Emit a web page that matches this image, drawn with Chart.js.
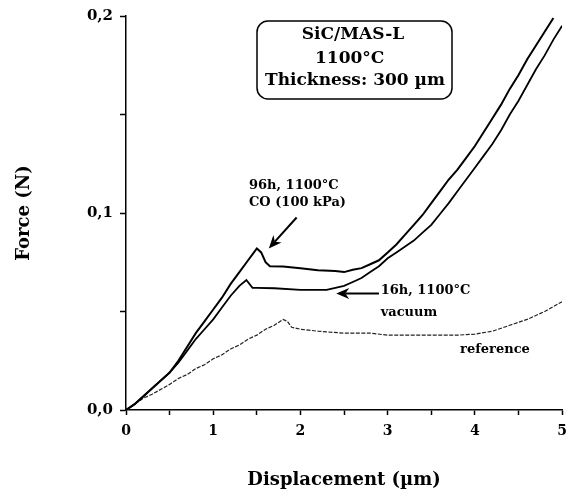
<!DOCTYPE html>
<html>
<head>
<meta charset="utf-8">
<script src="https://cdn.jsdelivr.net/npm/chart.js@4/dist/chart.umd.min.js"></script>
<style>
  html, body { margin: 0; padding: 0; background: #fff; }
  #c { display: block; }
</style>
</head>
<body>
<canvas id="c" width="575" height="491"></canvas>
<script>
// ---- Data (displacement in µm, force in N) ----
const dispCO  = [0, 0.1, 0.2, 0.3, 0.4, 0.5, 0.6, 0.7, 0.8, 0.9, 1.0, 1.1, 1.2, 1.3, 1.4, 1.45, 1.5, 1.55, 1.6, 1.65, 1.8, 2.0, 2.2, 2.4, 2.5, 2.6, 2.7, 2.8, 2.9, 3.0, 3.1, 3.2, 3.3, 3.4, 3.5, 3.6, 3.7, 3.8, 3.9, 4.0, 4.1, 4.2, 4.3, 4.4, 4.5, 4.6, 4.7, 4.8, 4.9];
const forceCO = [0, 0.003, 0.007, 0.011, 0.015, 0.019, 0.025, 0.032, 0.039, 0.045, 0.051, 0.057, 0.064, 0.070, 0.076, 0.079, 0.082, 0.080, 0.075, 0.073, 0.0728, 0.072, 0.071, 0.0705, 0.070, 0.0712, 0.072, 0.074, 0.076, 0.080, 0.084, 0.089, 0.094, 0.099, 0.105, 0.111, 0.117, 0.122, 0.128, 0.134, 0.141, 0.148, 0.155, 0.163, 0.170, 0.178, 0.185, 0.192, 0.199];

const dispVac  = [0, 0.1, 0.2, 0.3, 0.4, 0.5, 0.6, 0.7, 0.8, 0.9, 1.0, 1.1, 1.2, 1.3, 1.38, 1.45, 1.5, 1.7, 2.0, 2.3, 2.4, 2.5, 2.6, 2.7, 2.8, 2.9, 3.0, 3.1, 3.2, 3.3, 3.4, 3.5, 3.6, 3.7, 3.8, 3.9, 4.0, 4.1, 4.2, 4.3, 4.4, 4.5, 4.6, 4.7, 4.8, 4.9, 5.0];
const forceVac = [0, 0.003, 0.007, 0.011, 0.015, 0.019, 0.024, 0.030, 0.036, 0.041, 0.046, 0.052, 0.058, 0.063, 0.066, 0.062, 0.062, 0.0618, 0.061, 0.061, 0.062, 0.063, 0.065, 0.067, 0.070, 0.073, 0.077, 0.080, 0.083, 0.086, 0.090, 0.094, 0.0995, 0.105, 0.111, 0.117, 0.123, 0.129, 0.135, 0.142, 0.150, 0.157, 0.165, 0.173, 0.180, 0.188, 0.195];

const dispRef  = [0, 0.1, 0.2, 0.3, 0.4, 0.5, 0.6, 0.7, 0.8, 0.9, 1.0, 1.1, 1.2, 1.3, 1.4, 1.5, 1.6, 1.7, 1.8, 1.85, 1.9, 2.0, 2.2, 2.5, 2.8, 3.0, 3.5, 3.8, 4.0, 4.2, 4.4, 4.6, 4.8, 5.0];
const forceRef = [0, 0.003, 0.006, 0.008, 0.0105, 0.013, 0.016, 0.018, 0.021, 0.023, 0.026, 0.028, 0.031, 0.033, 0.036, 0.038, 0.041, 0.043, 0.046, 0.045, 0.042, 0.041, 0.040, 0.039, 0.039, 0.038, 0.038, 0.038, 0.0385, 0.040, 0.043, 0.046, 0.050, 0.055];

const xTickLabels = ['0', '1', '2', '3', '4', '5'];
const yTickLabels = ['0,0', '0,1', '0,2'];

const FONT = 'DejaVu Serif';

function pairs(xs, ys) { return xs.map((x, i) => ({ x: x, y: ys[i] })); }

// ---- Annotations (in data coordinates) ----
const annoTexts = [
  { text: '96h, 1100°C',  x: 1.41, y: 0.1139, size: 13, align: 'left' },
  { text: 'CO (100 kPa)', x: 1.41, y: 0.1053, size: 13, align: 'left' },
  { text: '16h, 1100°C',  x: 2.92, y: 0.0608, size: 13, align: 'left' },
  { text: 'vacuum',       x: 2.92, y: 0.0496, size: 13, align: 'left' },
  { text: 'reference',    x: 3.83, y: 0.0304, size: 13, align: 'left' }
];
const annoArrows = [
  { x0: 1.956, y0: 0.0977, x1: 1.637, y1: 0.0820 },
  { x0: 2.90,  y0: 0.0592, x1: 2.41,  y1: 0.0592 }
];

const annotationPlugin = {
  id: 'annos',
  afterDatasetsDraw(chart) {
    const ctx = chart.ctx;
    const xs = chart.scales.x, ys = chart.scales.y;
    ctx.save();
    ctx.fillStyle = '#000';
    ctx.strokeStyle = '#000';
    ctx.textBaseline = 'middle';
    annoTexts.forEach(a => {
      ctx.font = 'bold ' + a.size + 'px "' + FONT + '"';
      ctx.textAlign = a.align;
      ctx.fillText(a.text, xs.getPixelForValue(a.x), ys.getPixelForValue(a.y));
    });
    annoArrows.forEach(a => {
      const x0 = xs.getPixelForValue(a.x0), y0 = ys.getPixelForValue(a.y0);
      const x1 = xs.getPixelForValue(a.x1), y1 = ys.getPixelForValue(a.y1);
      const ang = Math.atan2(y1 - y0, x1 - x0);
      const L = 13, W = 5.5;
      ctx.lineWidth = 2;
      ctx.beginPath();
      ctx.moveTo(x0, y0);
      ctx.lineTo(x1 - Math.cos(ang) * L * 0.7, y1 - Math.sin(ang) * L * 0.7);
      ctx.stroke();
      ctx.beginPath();
      ctx.moveTo(x1, y1);
      ctx.lineTo(x1 - Math.cos(ang) * L - Math.sin(ang) * W, y1 - Math.sin(ang) * L + Math.cos(ang) * W);
      ctx.lineTo(x1 - Math.cos(ang) * L * 0.7, y1 - Math.sin(ang) * L * 0.7);
      ctx.lineTo(x1 - Math.cos(ang) * L + Math.sin(ang) * W, y1 - Math.sin(ang) * L - Math.cos(ang) * W);
      ctx.closePath();
      ctx.fill();
    });
    // info box
    const bx0 = 257, by0 = 21, bx1 = 452, by1 = 99, r = 11;
    ctx.lineWidth = 1.5;
    ctx.beginPath();
    ctx.moveTo(bx0 + r, by0);
    ctx.arcTo(bx1, by0, bx1, by1, r);
    ctx.arcTo(bx1, by1, bx0, by1, r);
    ctx.arcTo(bx0, by1, bx0, by0, r);
    ctx.arcTo(bx0, by0, bx1, by0, r);
    ctx.closePath();
    ctx.fillStyle = '#fff';
    ctx.fill();
    ctx.stroke();
    ctx.fillStyle = '#000';
    ctx.font = 'bold 17px "' + FONT + '"';
    ctx.textAlign = 'center';
    ctx.fillText('SiC/MAS-L', 353, 35);
    ctx.textAlign = 'left';
    ctx.fillText('1100°C', 315, 59);
    ctx.textAlign = 'center';
    ctx.fillText('Thickness: 300 µm', 355, 81);
    ctx.restore();
  }
};

function isMajor(v, step) { return Math.abs(v / step - Math.round(v / step)) < 1e-6; }

new Chart(document.getElementById('c'), {
  type: 'line',
  data: {
    datasets: [
      { label: '96h, 1100°C CO (100 kPa)', data: pairs(dispCO, forceCO), borderColor: '#000', borderWidth: 2, pointRadius: 0, tension: 0, fill: false },
      { label: '16h, 1100°C vacuum', data: pairs(dispVac, forceVac), borderColor: '#000', borderWidth: 1.8, pointRadius: 0, tension: 0, fill: false },
      { label: 'reference', data: pairs(dispRef, forceRef), borderColor: '#222', borderWidth: 1.2, borderDash: [4, 1.5], pointRadius: 0, tension: 0, fill: false }
    ]
  },
  options: {
    responsive: false,
    animation: false,
    devicePixelRatio: 1,
    layout: { padding: { left: 0, right: 9.3, top: 15, bottom: 0 } },
    plugins: { legend: { display: false }, tooltip: { enabled: false } },
    scales: {
      x: {
        type: 'linear', min: 0, max: 5,
        afterFit(s) { s.height = 81; },
        border: { display: true, color: '#000', width: 1.5 },
        grid: { display: true, drawOnChartArea: false, drawTicks: true, tickLength: 5, tickColor: '#000', tickWidth: 1.5 },
        ticks: {
          stepSize: 0.5, padding: 8, color: '#000', maxRotation: 0, autoSkip: false,
          font: { family: FONT, size: 14, weight: 'bold' },
          callback: (v) => isMajor(v, 1) ? xTickLabels[Math.round(v)] : ''
        },
        title: { display: true, text: 'Displacement (µm)', color: '#000', padding: { top: 0, bottom: 0 },
                 font: { family: FONT, size: 18, weight: 'bold' } }
      },
      y: {
        type: 'linear', min: 0, max: 0.2,
        afterFit(s) { s.width = 126; },
        border: { display: true, color: '#000', width: 1.5 },
        grid: { display: true, drawOnChartArea: false, drawTicks: true, tickLength: 6, tickColor: '#000', tickWidth: 1.5 },
        ticks: {
          stepSize: 0.05, padding: 7, color: '#000', autoSkip: false,
          font: { family: FONT, size: 15, weight: 'bold' },
          callback: (v) => isMajor(v, 0.1) ? yTickLabels[Math.round(v * 10)] : ''
        },
        title: { display: true, text: 'Force (N)', color: '#000', padding: { top: 14, bottom: 0 },
                 font: { family: FONT, size: 18, weight: 'bold' } }
      }
    }
  },
  plugins: [annotationPlugin]
});
</script>
</body>
</html>
